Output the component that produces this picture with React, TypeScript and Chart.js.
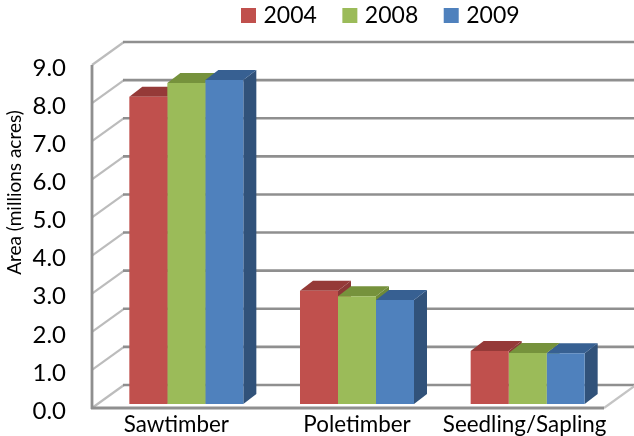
import React, { useEffect, useRef } from "react";
import { Chart, registerables } from "chart.js";

Chart.register(...registerables);

const categories = ["Sawtimber", "Poletimber", "Seedling/Sapling"];
const series2004 = [8.06, 2.97, 1.39];
const series2008 = [8.42, 2.83, 1.34];
const series2009 = [8.5, 2.73, 1.33];

const FONT = "Lato, Carlito, sans-serif";
const FRONT = { dx: -9, dy: 4 };
const BACK = { dx: 23, dy: -19 };
const DEPTH = { dx: 13, dy: -10 };
const X_LABEL_SHIFT = [-10, 0, -3];

const poly = (ctx: CanvasRenderingContext2D, pts: number[][], fill: string) => {
  ctx.fillStyle = fill;
  ctx.beginPath();
  pts.forEach((p, i) => (i ? ctx.lineTo(p[0], p[1]) : ctx.moveTo(p[0], p[1])));
  ctx.closePath();
  ctx.fill();
};

const line = (
  ctx: CanvasRenderingContext2D,
  x1: number,
  y1: number,
  x2: number,
  y2: number,
  color: string,
  w: number
) => {
  ctx.strokeStyle = color;
  ctx.lineWidth = w;
  ctx.beginPath();
  ctx.moveTo(x1, y1);
  ctx.lineTo(x2, y2);
  ctx.stroke();
};

const clearPadding = (s: any) => {
  s.paddingTop = 0;
  s.paddingBottom = 0;
  s.paddingLeft = 0;
  s.paddingRight = 0;
};

const frame3d = {
  id: "frame3d",
  beforeInit(chart: any) {
    const orig = chart.legend.fit;
    chart.legend.fit = function () {
      orig.call(this);
      this.height = 61;
    };
  },
  afterLayout(chart: any) {
    chart.legend.left = 215.5;
    chart.legend.right = 634;
    chart.legend.top = -25.5;
    const y = chart.scales.y;
    if (!y.__shifted) {
      y.__shifted = true;
      const origTitle = y.drawTitle;
      y.drawTitle = function () {
        this.ctx.save();
        this.ctx.translate(0, -40);
        origTitle.call(this);
        this.ctx.restore();
      };
    }
  },
  beforeDraw(chart: any) {
    const x = chart.scales.x;
    const items = x.getLabelItems();
    if (!x.__shifted || x.__shifted !== items) {
      x.__shifted = items;
      items.forEach((it: any, i: number) => {
        it.options.translation = [it.options.translation[0] + X_LABEL_SHIFT[i], it.options.translation[1]];
      });
    }
  },
  beforeDatasetsDraw(chart: any) {
    const { ctx, chartArea, scales } = chart;
    const y = scales.y;
    const fx = chartArea.left + FRONT.dx;
    const bx = chartArea.left + BACK.dx;
    const frx = chartArea.right + FRONT.dx;
    const brx = chartArea.right + BACK.dx;
    ctx.save();
    ctx.lineCap = "butt";
    y.ticks.forEach((t: any) => {
      const py = y.getPixelForValue(t.value);
      line(ctx, fx, py + FRONT.dy, bx, py + BACK.dy, "#bcbcbc", 2.2);
      line(ctx, bx - 1, py + BACK.dy, brx, py + BACK.dy, "#8f8f8f", 2.6);
    });
    const y0 = y.getPixelForValue(0);
    line(ctx, frx, y0 + FRONT.dy, brx, y0 + BACK.dy, "#c4c4c4", 2.2);
    line(ctx, fx, y.getPixelForValue(9) + FRONT.dy, fx, y0 + FRONT.dy + 1, "#8f8f8f", 2.8);
    line(ctx, fx - 1, y0 + FRONT.dy, frx, y0 + FRONT.dy, "#8f8f8f", 2.8);

    const tops = ["#953a38", "#76923c", "#376092"];
    const sides = ["#8c3836", "#6f8a38", "#31527a"];
    chart.data.datasets.forEach((_: any, ds: number) => {
      chart.getDatasetMeta(ds).data.forEach((b: any) => {
        const l = b.x - b.width / 2;
        const r = b.x + b.width / 2;
        poly(ctx, [[r, b.y], [r + DEPTH.dx, b.y + DEPTH.dy], [r + DEPTH.dx, b.base + DEPTH.dy], [r, b.base]], sides[ds]);
        poly(ctx, [[l, b.y], [l + DEPTH.dx, b.y + DEPTH.dy], [r + DEPTH.dx, b.y + DEPTH.dy], [r, b.y]], tops[ds]);
      });
    });
    ctx.restore();
  },
};

export default function App() {
  const ref = useRef<HTMLCanvasElement>(null);
  useEffect(() => {
    const chart = new Chart(ref.current!, {
      type: "bar",
      data: {
        labels: categories,
        datasets: [
          { label: "2004", data: series2004, backgroundColor: "#c0504d" },
          { label: "2008", data: series2008, backgroundColor: "#9bbb59" },
          { label: "2009", data: series2009, backgroundColor: "#4f81bd" },
        ],
      },
      options: {
        responsive: false,
        animation: false,
        layout: { autoPadding: false, padding: { left: 0, right: 21, top: 0, bottom: 0 } },
        datasets: { bar: { categoryPercentage: 0.668, barPercentage: 1 } },
        plugins: {
          tooltip: { enabled: false },
          legend: {
            position: "top",
            align: "start",
            labels: {
              usePointStyle: true,
              pointStyle: "rect",
              boxWidth: 7,
              boxHeight: 15,
              padding: 29.5,
              color: "#000",
              font: { family: FONT, size: 23 },
            },
          },
        },
        scales: {
          x: {
            grid: { display: false, drawTicks: false },
            border: { display: false },
            ticks: { color: "#000", font: { family: FONT, size: 22.4 }, padding: 7, maxRotation: 0, autoSkip: false },
            afterFit(s: any) {
              s.height = 32;
              clearPadding(s);
            },
          },
          y: {
            min: 0,
            max: 9,
            grid: { display: false, drawTicks: false },
            border: { display: false },
            ticks: {
              stepSize: 1,
              color: "#000",
              font: { family: FONT, size: 24 },
              padding: 35,
              labelOffset: 7,
              callback: (v: any) => Number(v).toFixed(1),
            },
            title: {
              display: true,
              text: "Area (millions acres)",
              color: "#000",
              font: { family: FONT, size: 19 },
              padding: { top: 3, bottom: 0 },
            },
            afterFit(s: any) {
              s.width = 101;
              clearPadding(s);
            },
          },
        },
      },
      plugins: [frame3d],
    } as any);
    return () => chart.destroy();
  }, []);
  return (
    <div style={{ position: "absolute", left: 0, top: 0, width: 634, height: 436, background: "#fff" }}>
      <canvas ref={ref} width={634} height={436} style={{ display: "block", filter: "blur(0.45px)" }} />
    </div>
  );
}
